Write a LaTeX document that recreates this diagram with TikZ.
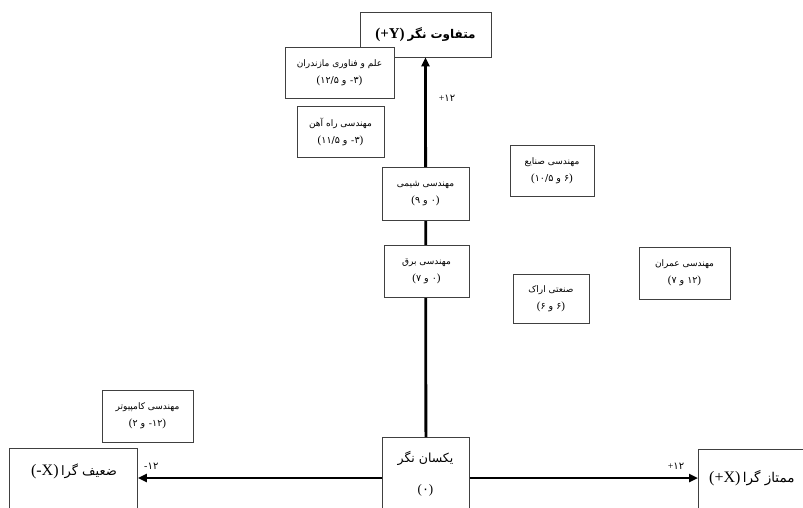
\documentclass[tikz,border=0pt]{standalone}
\usepackage{fontspec}
\setmainfont{Liberation Serif}
\newfontfamily\fa[Script=Arabic]{DejaVu Sans}
\TeXXeTstate=1
\usetikzlibrary{arrows.meta}
\newcommand\RR[1]{{\fa\beginR #1\endR}}
\newcommand\lp{{\rmfamily\fontsize{11}{11}\selectfont(}}
\newcommand\rp{{\rmfamily\fontsize{11}{11}\selectfont)}}
\newcommand\mn{{\rmfamily\kern0.5pt-\kern0.3pt}}
\newcommand\dg[1]{{\fa #1}}
\newcommand\va{\ {\fa و}\ }
\newcommand\nl{\\[-1pt]\fontsize{9.5}{11}\selectfont}
\tikzset{
  box/.style={draw=black!75, fill=white, line width=0.8pt, inner sep=0pt, align=center, font=\fa\fontsize{9}{18}\selectfont},
  axis/.style={line width=2.8pt, -{Triangle[length=9pt,width=8pt]}},
  tick/.style={font=\fontsize{10}{10}\selectfont, inner sep=0pt}
}
\begin{document}
\begin{tikzpicture}[x=1pt,y=-1pt]
\useasboundingbox (0,0) rectangle (803,507);
\clip (0,0) rectangle (803,507);
\fill[white] (0,0) rectangle (803,507);
\coordinate (axy) at (0,478);
% end boxes
\node[box, minimum width=131pt, minimum height=45pt] (top) at (425.5,34.5)
  {{\rmfamily\bfseries\fontsize{15}{15}\selectfont (+Y)}\ {\bfseries\fontsize{12}{14}\selectfont\RR{متفاوت نگر}}};
\node[box, minimum width=128pt, minimum height=72pt, anchor=north west] (left) at (9,448) {};
\node[inner sep=0pt] (lefttxt) at (74,471) {{\fontsize{16}{16}\selectfont(-X)}\ {\fontsize{13}{14}\selectfont\RR{ضعیف گرا}}};
\node[box, minimum width=117pt, minimum height=72pt, anchor=north west] (right) at (698,449) {};
\node[inner sep=0pt, anchor=west] (righttxt) at (709,478) {{\fontsize{16}{16}\selectfont(+X)}\ {\fontsize{13.5}{14}\selectfont\RR{ممتاز گرا}}};
\node[box, minimum width=87pt, minimum height=83pt, anchor=north west] (org) at (382,437) {};
\node[inner sep=0pt] (orgt1) at (425.5,458) {\fontsize{12.5}{14}\selectfont\RR{یکسان نگر}};
\node[inner sep=0pt] (orgt2) at (425.5,490) {\fontsize{13}{14}\selectfont{\rmfamily(}\dg{۰}{\rmfamily)}};
% axes
\draw[axis] (org.north) -- (top.south);
\draw[axis] (org.west |- axy) -- (left.east |- axy);
\draw[axis] (org.east |- axy) -- (right.west |- axy);
\node[tick] (ty) at (447,98) {+\dg{۱۲}};
\node[tick] (tmx) at (151,466) {\mn\dg{۱۲}};
\node[tick] (tpx) at (676,466) {+\dg{۱۲}};
% data boxes
\node[box, minimum width=109pt, minimum height=51pt] (maz) at (339.5,72.5)
  {\RR{علم و فناوری مازندران}\nl\lp\dg{۱۲/۵}\va\mn\dg{۳}\rp};
\node[box, minimum width=87pt, minimum height=51pt] (rail) at (340.5,131.5)
  {\RR{مهندسی راه آهن}\nl\lp\dg{۱۱/۵}\va\mn\dg{۳}\rp};
\node[box, minimum width=87pt, minimum height=53pt] (chem) at (425.5,193.5)
  {\RR{مهندسی شیمی}\nl\lp\dg{۹}\va\dg{۰}\rp};
\node[box, minimum width=85pt, minimum height=52pt] (elec) at (426.5,271)
  {\RR{مهندسی برق}\nl\lp\dg{۷}\va\dg{۰}\rp};
\node[box, minimum width=84pt, minimum height=51pt] (ind) at (552,170.5)
  {\RR{مهندسی صنایع}\nl\lp\dg{۱۰/۵}\va\dg{۶}\rp};
\node[box, minimum width=76pt, minimum height=49pt] (arak) at (551,298.5)
  {\RR{صنعتی اراک}\nl\lp\dg{۶}\va\dg{۶}\rp};
\node[box, minimum width=91pt, minimum height=52pt] (civil) at (684.5,273)
  {\RR{مهندسی عمران}\nl\lp\dg{۷}\va\dg{۱۲}\rp};
\node[box, minimum width=91pt, minimum height=52pt] (comp) at (147.5,416)
  {\RR{مهندسی کامپیوتر}\nl\lp\dg{۲}\va\mn\dg{۱۲}\rp};
\end{tikzpicture}
\end{document}
